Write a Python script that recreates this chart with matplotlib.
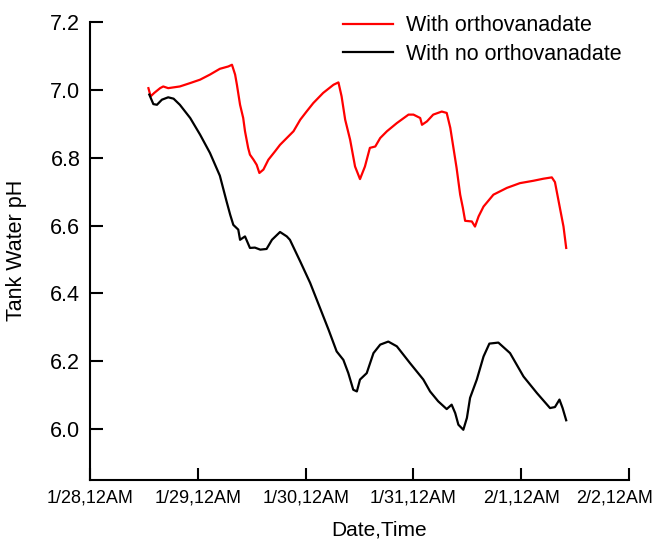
import matplotlib.pyplot as plt
from matplotlib.transforms import ScaledTranslation

plt.rcParams['font.family'] = ['Liberation Sans', 'DejaVu Sans']

# hours since 1/28 12AM and measured pH
hours_vanadate = [13.0, 13.5, 14.3, 15.6, 16.3, 17.4, 20.0, 22.3, 24.5, 26.7, 28.9, 30.8,
                  31.6, 32.3, 32.7, 33.4, 34.1, 34.5, 35.2, 35.6, 36.4, 37.1, 37.7, 38.6,
                  39.7, 41.2, 42.3, 43.8, 45.3, 46.8, 48.2, 49.7, 51.9, 54.2, 55.3, 56.0,
                  56.8, 57.9, 59.0, 60.1, 61.2, 62.3, 63.5, 64.6, 66.1, 68.3, 70.9, 72.0,
                  73.5, 73.9, 75.0, 76.4, 78.3, 79.4, 80.2, 80.9, 81.6, 82.4, 83.0, 83.5,
                  85.0, 85.7, 86.5, 87.6, 89.8, 92.8, 95.7, 98.7, 100.9, 102.8, 103.5, 104.6,
                  105.4, 106.0]
ph_vanadate = [7.005, 6.981, 6.991, 7.005, 7.010, 7.005, 7.010, 7.020, 7.030, 7.045, 7.062, 7.069,
               7.074, 7.045, 7.015, 6.956, 6.917, 6.878, 6.829, 6.809, 6.794, 6.779, 6.755, 6.765,
               6.794, 6.819, 6.838, 6.858, 6.878, 6.912, 6.936, 6.961, 6.991, 7.015, 7.022, 6.981,
               6.912, 6.853, 6.774, 6.737, 6.774, 6.829, 6.833, 6.858, 6.878, 6.902, 6.927, 6.927,
               6.917, 6.897, 6.907, 6.927, 6.936, 6.932, 6.888, 6.829, 6.770, 6.691, 6.652, 6.614,
               6.612, 6.597, 6.627, 6.656, 6.691, 6.711, 6.725, 6.732, 6.738, 6.742, 6.728, 6.652,
               6.597, 6.534]

hours_control = [13.2, 14.1, 14.9, 16.0, 17.4, 18.6, 20.0, 22.3, 24.5, 26.7, 28.9, 30.4,
                 31.2, 31.9, 33.0, 33.4, 34.5, 35.6, 36.7, 37.9, 39.3, 40.5, 42.3, 43.8,
                 44.5, 46.8, 49.0, 51.2, 53.1, 54.9, 56.4, 57.5, 58.6, 59.4, 60.1, 61.6,
                 63.1, 64.6, 66.4, 68.3, 71.2, 74.2, 75.7, 77.5, 79.4, 80.5, 81.3, 82.0,
                 83.1, 83.9, 84.6, 86.1, 87.6, 88.9, 90.9, 93.5, 96.5, 99.5, 102.4, 103.5,
                 104.5, 105.2, 106.0]
ph_control = [6.986, 6.958, 6.956, 6.971, 6.978, 6.974, 6.956, 6.917, 6.868, 6.814, 6.747, 6.671,
              6.632, 6.602, 6.588, 6.558, 6.568, 6.534, 6.535, 6.529, 6.531, 6.558, 6.581, 6.568,
              6.558, 6.494, 6.431, 6.357, 6.293, 6.229, 6.204, 6.165, 6.116, 6.111, 6.146, 6.165,
              6.224, 6.249, 6.258, 6.244, 6.195, 6.146, 6.111, 6.082, 6.059, 6.072, 6.047, 6.013,
              5.998, 6.033, 6.092, 6.146, 6.214, 6.252, 6.255, 6.224, 6.155, 6.106, 6.062, 6.065,
              6.087, 6.062, 6.026]

day_ticks = [0, 24, 48, 72, 96, 120]
day_labels = ['1/28,12AM', '1/29,12AM', '1/30,12AM', '1/31,12AM', '2/1,12AM', '2/2,12AM']
ph_ticks = [6.0, 6.2, 6.4, 6.6, 6.8, 7.0, 7.2]

fig = plt.figure(figsize=(6.59, 5.5), dpi=100)
ax = fig.add_axes([0.1366, 0.1273, 0.818, 0.8327])

ax.plot(hours_vanadate, ph_vanadate, color='#ff0000', lw=1.6, label='With orthovanadate')
ax.plot(hours_control, ph_control, color='black', lw=1.6, label='With no orthovanadate')

ax.set_xlim(0, 120)
ax.set_ylim(5.85, 7.2)
ax.set_xticks(day_ticks)
ax.set_xticklabels(day_labels, fontsize=13)
ax.set_yticks(ph_ticks)
ax.set_yticklabels(['%.1f' % v for v in ph_ticks], fontsize=15.5)
ax.tick_params(direction='in', length=9, width=1.5, pad=7)

# pull the last date label back inside the figure
last = ax.get_xticklabels()[-1]
last.set_transform(last.get_transform() + ScaledTranslation(-0.15, 0, fig.dpi_scale_trans))

for s in ['top', 'right']:
    ax.spines[s].set_visible(False)
for s in ['left', 'bottom']:
    ax.spines[s].set_linewidth(1.5)

ax.set_xlabel('Date,Time', fontsize=15)
ax.xaxis.set_label_coords(0.536, -0.088)
ax.set_ylabel('Tank Water pH', fontsize=15.5)
ax.yaxis.set_label_coords(-0.117, 0.501)

ax.legend(loc='upper left', bbox_to_anchor=(0.469, 1.015), frameon=False, fontsize=15.5,
          borderpad=0, borderaxespad=0, handlelength=2.33, handletextpad=0.6,
          labelspacing=0.35)

fig.savefig('out.png')
